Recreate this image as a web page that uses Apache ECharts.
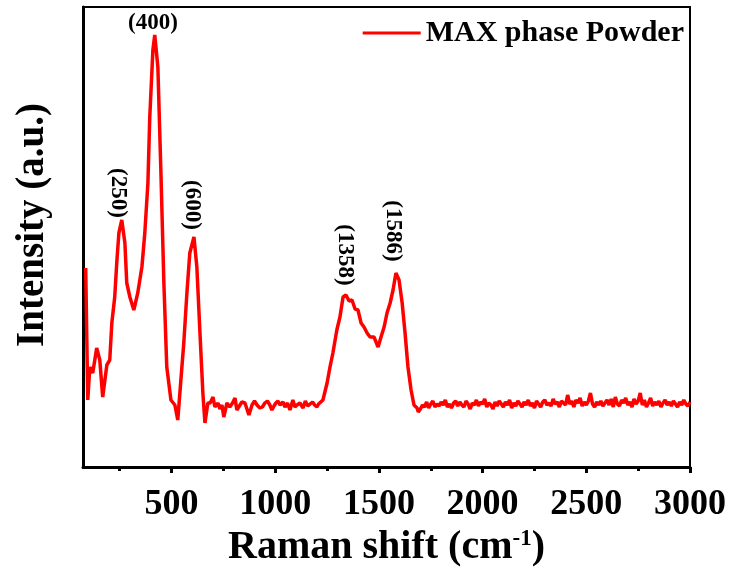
<!DOCTYPE html>
<html lang="en">
<head>
    <meta charset="UTF-8">
    <title>Raman spectrum</title>
    <script src="https://cdn.jsdelivr.net/npm/echarts@6/dist/echarts.min.js"></script>
    <style>
        body { margin: 0; background: #fff; }
    </style>
</head>
<body>
    <div style="width: 736px; height: 581px" id="main"></div>
    <script type="text/javascript">
        // raman shift (cm-1) / intensity (a.u.)
        // low region with the 250 / 400 / 600 bands
        var lowShift = [86, 96, 106, 120, 139, 154, 168, 188, 202, 212, 226, 236, 246, 260, 275, 284, 299, 318, 337, 357,
            371, 386, 395, 410, 419, 434, 448, 463, 477, 497, 516, 530, 545, 559, 574, 588, 608, 622, 637, 651, 661, 675];
        var lowIntensity = [199, 67, 100, 94, 119, 107, 70, 102, 107, 144, 170, 205, 234, 247, 224, 184, 170, 157, 174, 200,
            234, 284, 350, 417, 432, 400, 300, 184, 100, 67, 62, 47, 87, 124, 174, 214, 230, 200, 134, 74, 44, 64];

        // flat part between 700 and 1230
        var midShift = [686, 700, 709, 724, 733, 743, 752, 767, 781, 794, 806, 815, 827, 839, 854, 873, 888, 900, 912, 926,
            938, 950, 962, 974, 984, 994, 1003, 1013, 1023, 1037, 1047, 1059, 1071, 1085, 1095, 1105, 1119, 1134, 1145, 1157,
            1168, 1180, 1190, 1201, 1209, 1216, 1230];
        var midIntensity = [64, 70, 60, 64, 58, 62, 50, 64, 60, 64, 69, 57, 61, 65, 64, 52, 62, 66, 62, 59,
            60, 64, 66, 62, 57, 61, 64, 66, 62, 65, 60, 64, 57, 67, 60, 62, 64, 59, 66, 61,
            63, 65, 62, 60, 63, 65, 67];

        // D / G bands
        var bandShift = [1250, 1264, 1278, 1297, 1312, 1327, 1341, 1356, 1370, 1385, 1399, 1414, 1428, 1443, 1457, 1476, 1496, 1510, 1525, 1539,
            1554, 1568, 1582, 1597, 1612, 1626, 1640, 1655, 1669, 1684];
        var bandIntensity = [84, 100, 114, 137, 150, 170, 172, 166, 167, 158, 157, 144, 140, 134, 130, 130, 120, 130, 140, 154,
            164, 177, 194, 187, 164, 134, 100, 77, 62, 59];

        // noisy tail up to 3000
        var tailShift = [1690, 1700, 1710, 1720, 1730, 1740, 1750, 1760, 1770, 1780, 1790, 1800, 1810, 1820, 1830, 1840, 1850, 1860, 1870, 1880,
            1890, 1900, 1910, 1920, 1930, 1940, 1950, 1960, 1970, 1980, 1990, 2000, 2010, 2020, 2030, 2040, 2050, 2060, 2070, 2080,
            2090, 2100, 2110, 2120, 2130, 2140, 2150, 2160, 2170, 2180, 2190, 2200, 2210, 2220, 2230, 2240, 2250, 2260, 2270, 2280,
            2290, 2300, 2310, 2320, 2330, 2340, 2350, 2360, 2370, 2380, 2390, 2400, 2410, 2420, 2430, 2440, 2450, 2460, 2470, 2480,
            2490, 2500, 2510, 2520, 2530, 2540, 2550, 2560, 2570, 2580, 2590, 2600, 2610, 2620, 2630, 2640, 2650, 2660, 2670, 2680,
            2690, 2700, 2710, 2720, 2730, 2740, 2750, 2760, 2770, 2780, 2790, 2800, 2810, 2820, 2830, 2840, 2850, 2860, 2870, 2880,
            2890, 2900, 2910, 2920, 2930, 2940, 2950, 2960, 2970, 2980, 2990, 3000];
        var tailIntensity = [55, 58, 62, 60, 65, 59, 63, 66, 60, 63, 61, 65, 62, 67, 60, 63, 59, 64, 66, 61,
            65, 62, 60, 66, 63, 58, 64, 62, 67, 61, 65, 63, 68, 60, 64, 62, 58, 65, 61, 66,
            63, 60, 65, 62, 67, 59, 64, 61, 66, 63, 60, 65, 62, 67, 61, 64, 59, 66, 63, 60,
            65, 67, 62, 64, 61, 68, 63, 65, 60, 66, 64, 62, 72, 63, 66, 60, 67, 64, 69, 61,
            65, 62, 66, 74, 63, 60, 65, 62, 66, 61, 64, 67, 62, 68, 60, 70, 63, 61, 67, 64,
            69, 62, 65, 60, 68, 63, 66, 74, 62, 67, 60, 64, 69, 61, 65, 62, 66, 60, 64, 67,
            62, 65, 61, 66, 63, 60, 65, 62, 67, 63, 61, 65];

        // peak annotations
        var peakNames = ['(250)', '(400)', '(600)', '(1358)', '(1586)'];
        var peakX = [242, 410, 599, 1336, 1568];
        var peakY = [274, 444, 262, 212, 236];
        var peakRotate = [-90, 0, -90, -90, -90];

        var majorTicks = [500, 1000, 1500, 2000, 2500, 3000];
        var minorTicks = [250, 750, 1250, 1750, 2250, 2750];

        var font = 'Liberation Serif';

        var shift = lowShift.concat(midShift, bandShift, tailShift);
        var intensity = lowIntensity.concat(midIntensity, bandIntensity, tailIntensity);
        var lineData = shift.map((x, i) => [x, intensity[i]]);
        var peakData = peakNames.map((n, i) => ({
            value: [peakX[i], peakY[i]],
            label: { formatter: n, rotate: peakRotate[i] }
        }));

        var myChart = echarts.init(document.getElementById('main'));
        var option = {
            animation: false,
            grid: {
                left: 83,
                right: 46,
                top: 7,
                bottom: 114,
                show: true,
                borderColor: '#000',
                borderWidth: 2
            },
            legend: {
                data: ['MAX phase Powder'],
                right: 47,
                top: 13,
                icon: 'rect',
                itemWidth: 58,
                itemHeight: 3,
                textStyle: {
                    fontFamily: font,
                    fontWeight: 'bold',
                    fontSize: 30,
                    color: '#000'
                }
            },
            xAxis: [
                {
                    type: 'value',
                    min: 73,
                    max: 3000,
                    name: 'Raman shift (cm{sup|-1})',
                    nameLocation: 'middle',
                    nameGap: 60,
                    nameTextStyle: {
                        fontFamily: font,
                        fontWeight: 'bold',
                        fontSize: 40,
                        color: '#000',
                        rich: {
                            sup: {
                                fontFamily: font,
                                fontWeight: 'bold',
                                fontSize: 23,
                                color: '#000',
                                verticalAlign: 'top',
                                padding: [0, 0, 16, 0]
                            }
                        }
                    },
                    axisLine: { lineStyle: { color: '#000', width: 3 } },
                    axisTick: {
                        customValues: majorTicks,
                        length: 6,
                        lineStyle: { color: '#000', width: 3 }
                    },
                    axisLabel: {
                        customValues: majorTicks,
                        formatter: v => String(v),
                        margin: 20,
                        fontFamily: font,
                        fontWeight: 'bold',
                        fontSize: 36,
                        color: '#000'
                    },
                    splitLine: { show: false }
                },
                {
                    type: 'value',
                    min: 73,
                    max: 3000,
                    position: 'bottom',
                    axisLine: { show: false },
                    axisTick: {
                        customValues: minorTicks,
                        length: 4,
                        lineStyle: { color: '#000', width: 3 }
                    },
                    axisLabel: { show: false },
                    splitLine: { show: false }
                }
            ],
            yAxis: {
                type: 'value',
                min: 0,
                max: 460,
                name: 'Intensity (a.u.)',
                nameLocation: 'middle',
                nameGap: 31,
                nameTextStyle: {
                    fontFamily: font,
                    fontWeight: 'bold',
                    fontSize: 39,
                    color: '#000',
                    padding: [0, 0, 0, 24]
                },
                axisLine: { show: true, lineStyle: { color: '#000', width: 3 } },
                axisTick: { show: false },
                axisLabel: { show: false },
                splitLine: { show: false }
            },
            series: [
                {
                    name: 'MAX phase Powder',
                    type: 'line',
                    data: lineData,
                    showSymbol: false,
                    color: '#ff0000',
                    lineStyle: { color: '#ff0000', width: 3.5 },
                    z: 3
                },
                {
                    name: 'peaks',
                    type: 'scatter',
                    data: peakData,
                    symbolSize: 0.1,
                    itemStyle: { color: '#000', opacity: 1 },
                    label: {
                        show: true,
                        position: 'inside',
                        fontFamily: font,
                        fontWeight: 'bold',
                        fontSize: 23,
                        color: '#000',
                        opacity: 1,
                        textBorderWidth: 0
                    },
                    z: 4
                }
            ]
        };
        myChart.setOption(option);
    </script>
</body>
</html>
